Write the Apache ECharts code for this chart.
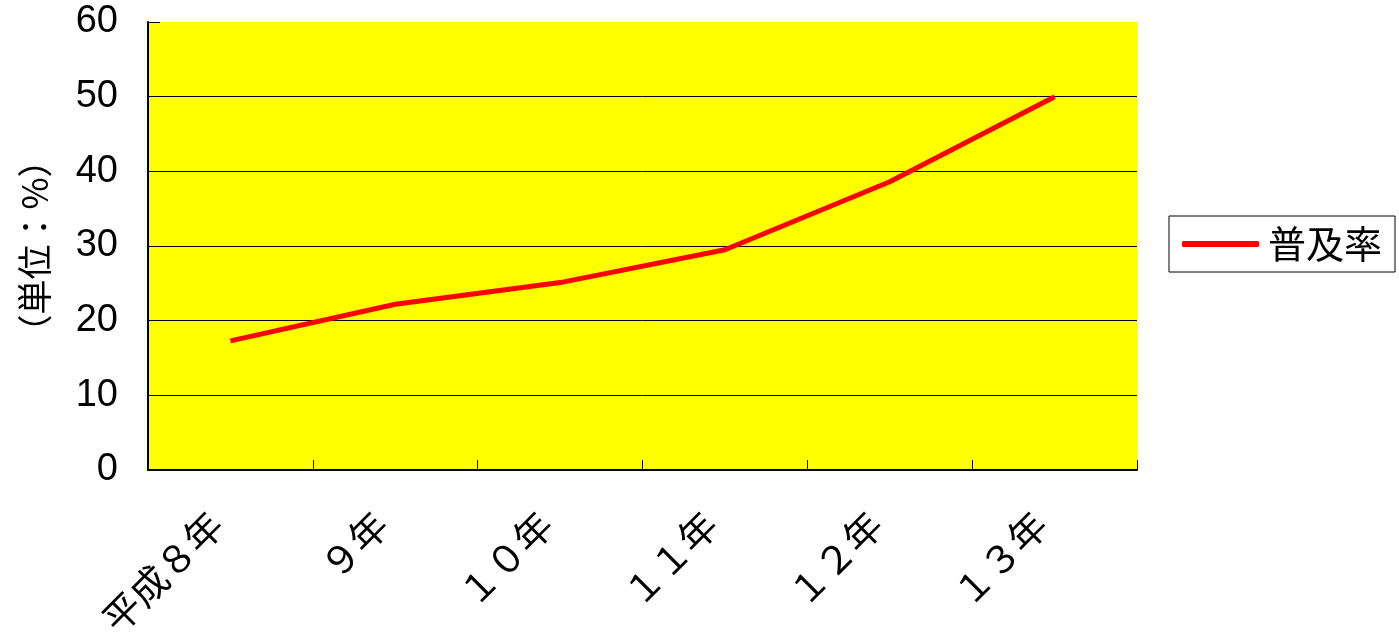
<!DOCTYPE html>
<html><head><meta charset="utf-8">
<script src="https://cdn.jsdelivr.net/npm/echarts@6/dist/echarts.min.js"></script>
<style>html,body{margin:0;padding:0;background:#fff}#c{width:1399px;height:636px}</style>
</head><body><div id="c"></div>
<script>
const categories = ['平成８年', '９年', '１０年', '１１年', '１２年', '１３年'];
const rates = [17.3, 22.2, 25.1, 29.5, 38.6, 50.0];
const yTicks = { min: 0, max: 60, interval: 10 };
const seriesName = '普及率';
const yAxisName = '（単位：%）';

const chart = echarts.init(document.getElementById('c'));
chart.setOption({
  animation: false,
  grid: { left: 148, right: 262, top: 22, bottom: 166, show: true, backgroundColor: '#ffff00', borderWidth: 0, containLabel: false, outerBoundsMode: 'none' },
  legend: {
    left: 1169, top: 216, orient: 'vertical',
    padding: [9, 13], itemGap: 0,
    borderColor: '#000', borderWidth: 1,
    icon: 'roundRect', itemWidth: 77, itemHeight: 6,
    textStyle: { fontSize: 38, color: '#000', fontFamily: 'Noto Sans CJK JP', padding: [0, 0, 0, 4] },
    data: [seriesName]
  },
  xAxis: {
    type: 'category', data: categories, boundaryGap: true,
    axisLine: { lineStyle: { color: '#000', width: 2 } },
    axisTick: { show: true, inside: true, length: 10, lineStyle: { color: '#000', width: 1 } },
    axisLabel: { rotate: 45, margin: 34, interval: 0, fontSize: 38, color: '#000', fontFamily: 'Noto Sans CJK JP', padding: [0, 20, 20, 0] }
  },
  yAxis: {
    type: 'value', min: yTicks.min, max: yTicks.max, interval: yTicks.interval,
    name: yAxisName, nameLocation: 'middle', nameGap: 96, nameRotate: 90,
    nameTextStyle: { fontSize: 35, color: '#000', fontFamily: 'Noto Sans CJK JP' },
    axisLine: { show: true, lineStyle: { color: '#000', width: 2 } },
    axisTick: { show: true, inside: true, length: 12, lineStyle: { color: '#000' } },
    axisLabel: { fontSize: 38, color: '#000', margin: 30, fontFamily: 'Liberation Sans' },
    splitLine: { show: true, showMaxLine: false, lineStyle: { color: '#000', width: 1 } }
  },
  series: [{
    name: seriesName, type: 'line', data: rates,
    showSymbol: false, symbol: 'none',
    lineStyle: { color: '#ff0000', width: 5 },
    itemStyle: { color: '#ff0000' }
  }]
});
</script></body></html>
